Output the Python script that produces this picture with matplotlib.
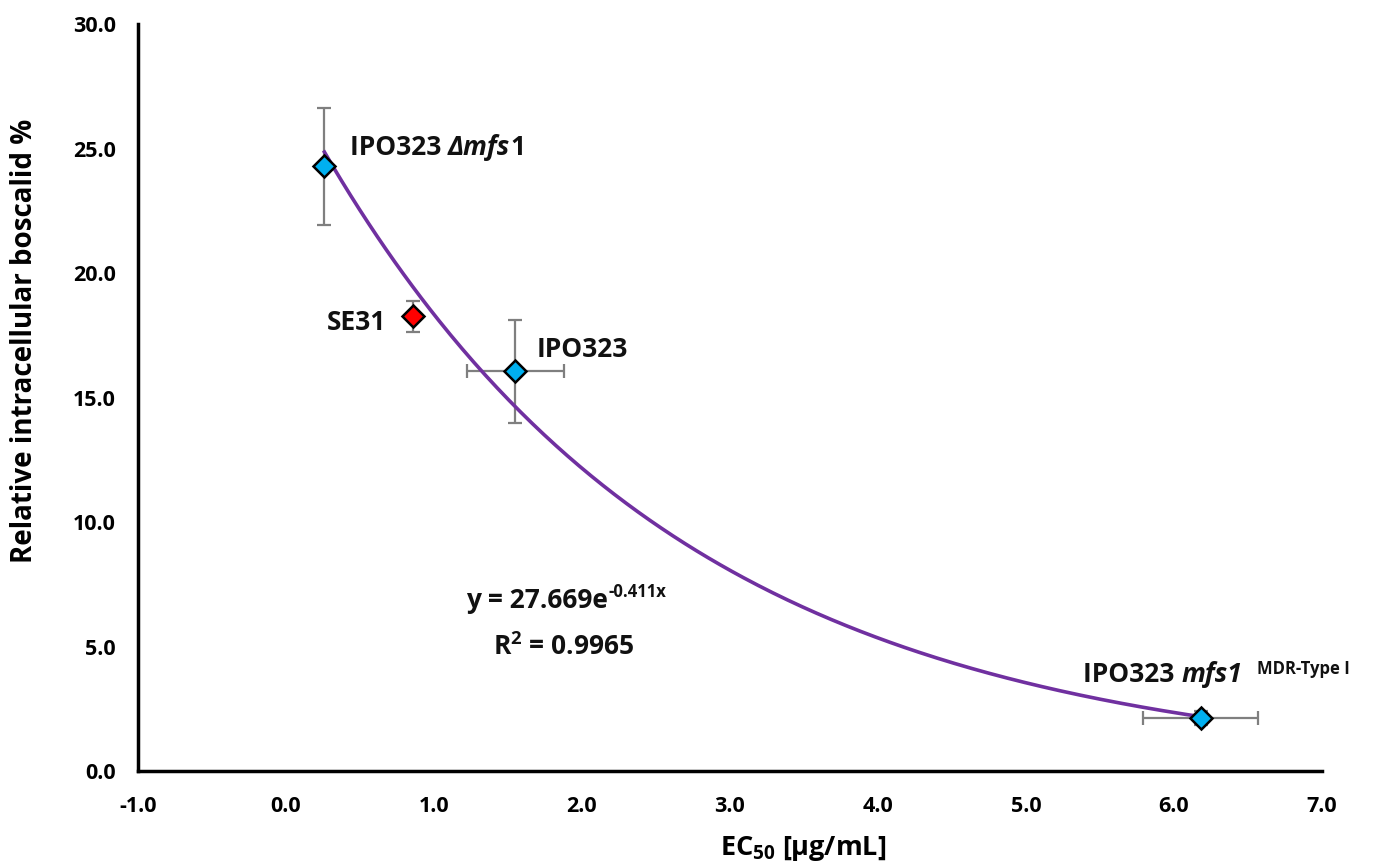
import numpy as np
import matplotlib
matplotlib.use('Agg')
import matplotlib.pyplot as plt

plt.rcParams['font.family'] = ['Open Sans', 'DejaVu Sans']
plt.rcParams['font.weight'] = 'bold'
plt.rcParams['mathtext.fontset'] = 'custom'
plt.rcParams['mathtext.rm'] = 'Open Sans:bold'
plt.rcParams['mathtext.it'] = 'Open Sans:bold:italic'
plt.rcParams['mathtext.bf'] = 'Open Sans:bold'

# strains: EC50 (x) vs relative intracellular boscalid (y)
labels = ['IPO323 Δmfs1', 'SE31', 'IPO323', 'IPO323 mfs1 MDR-Type I']
ec50 = [0.26, 0.86, 1.55, 6.18]
ec50_err = [0.0, 0.0, 0.33, 0.39]
boscalid = [24.3, 18.27, 16.05, 2.13]
boscalid_err = [2.35, 0.62, 2.07, 0.30]
colors = ['#00B0F0', '#FF0000', '#00B0F0', '#00B0F0']

# exponential trendline shown in the chart
fit_a, fit_b = 27.669, -0.411

fig = plt.figure(figsize=(13.77, 8.66), dpi=100)
ax = fig.add_axes([0.1002, 0.1097, 0.8598, 0.8623])

xs = np.linspace(min(ec50), max(ec50), 300)
ax.plot(xs, fit_a * np.exp(fit_b * xs), color='#7030A0', lw=2.6, zorder=2)

for x, y, xe, ye, c in zip(ec50, boscalid, ec50_err, boscalid_err, colors):
    ax.errorbar(x, y, xerr=xe if xe else None, yerr=ye, fmt='none',
                ecolor='#7F7F7F', elinewidth=1.6, capsize=5, capthick=1.6, zorder=1)
    ax.plot(x, y, marker='D', ms=11, mfc=c, mec='black', mew=1.8, ls='none', zorder=3)

txt = dict(fontsize=19, fontweight='bold', color='#111111')


def chain(prev, s, dx=0, dy=0, **kw):
    # put a text piece right after the previous one, on the same baseline
    opts = dict(txt)
    opts.update(kw)
    return ax.annotate(s, xy=(1, 0), xycoords=prev, xytext=(dx, dy),
                       textcoords='offset points', ha='left', va='bottom', **opts)


t = ax.text(0.432, 24.74, 'IPO323 ', va='baseline', **txt)
t = chain(t, 'Δmfs', style='italic')
chain(t, '1')
ax.text(0.676, 17.71, 'SE31', ha='right', va='baseline', **txt)
ax.text(1.696, 16.63, 'IPO323', va='baseline', **txt)
t = ax.text(5.385, 3.57, 'IPO323 ', va='baseline', **txt)
t = chain(t, 'mfs1', style='italic')
chain(t, 'MDR-Type I', dx=11, dy=7, fontsize=12)

t = ax.text(2.176, 6.55, 'y = 27.669e', ha='right', va='baseline', **txt)
chain(t, '-0.411x', dy=9, fontsize=12)
ax.text(1.875, 4.66, r'R$^{2}$ = 0.9965', ha='center', va='baseline', **txt)

ax.set_xlim(-1, 7)
ax.set_ylim(0, 30)
ax.set_xticks(np.arange(-1, 7.01, 1))
ax.set_yticks(np.arange(0, 30.01, 5))
ax.set_xticklabels([f'{v:.1f}' for v in np.arange(-1, 7.01, 1)])
ax.set_yticklabels([f'{v:.1f}' for v in np.arange(0, 30.01, 5)])
ax.tick_params(length=0, labelsize=15.5)
ax.tick_params(axis='x', pad=18)
ax.tick_params(axis='y', pad=16)
for lab in ax.get_xticklabels() + ax.get_yticklabels():
    lab.set_fontweight('bold')
for s in ('top', 'right'):
    ax.spines[s].set_visible(False)
for s in ('left', 'bottom'):
    ax.spines[s].set_linewidth(2.5)

ax.set_xlabel(r'EC$_{50}$ [µg/mL]', fontsize=19.5, fontweight='bold', labelpad=12, x=0.5617)
ax.set_ylabel('Relative intracellular boscalid %', fontsize=20, fontweight='bold',
              labelpad=24, y=0.576)

fig.savefig('out.png', dpi=100)
